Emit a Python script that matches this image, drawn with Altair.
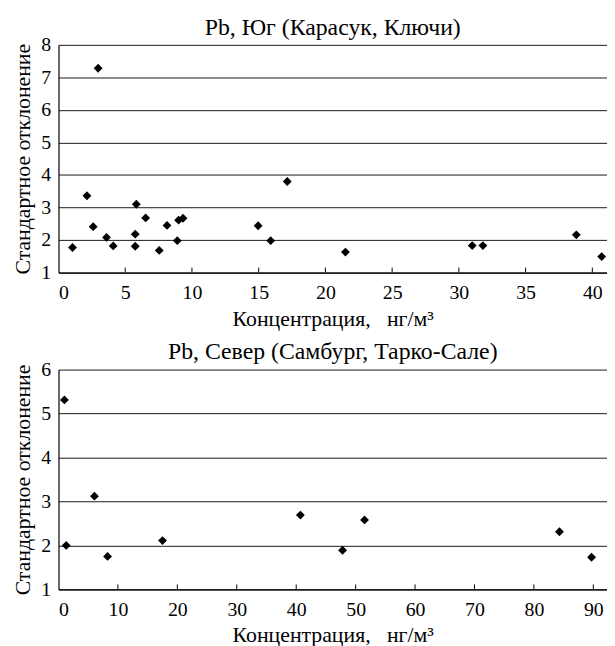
import altair as alt
import pandas as pd

# South (Karasuk, Klyuchi)
south_x = [1.05, 2.13, 2.6, 2.97, 3.6, 4.1, 5.75, 5.83, 5.75, 6.53, 7.55, 8.13,
           8.9, 9.0, 9.33, 14.96, 15.9, 17.14, 21.5, 31.0, 31.8, 38.8, 40.7]
south_y = [1.77, 3.36, 2.41, 7.28, 2.08, 1.82, 2.18, 3.10, 1.81, 2.68, 1.68, 2.45,
           1.98, 2.61, 2.67, 2.44, 1.98, 3.80, 1.63, 1.83, 1.83, 2.16, 1.49]
# North (Samburg, Tarko-Sale)
north_x = [1.0, 1.3, 6.05, 8.26, 17.5, 40.7, 47.8, 51.5, 84.3, 89.7]
north_y = [5.31, 2.0, 3.12, 1.75, 2.11, 2.69, 1.89, 2.58, 2.31, 1.73]

south_xticks = [0, 5, 10, 15, 20, 25, 30, 35, 40]
north_xticks = [0, 10, 20, 30, 40, 50, 60, 70, 80, 90]
south_yticks = [1, 2, 3, 4, 5, 6, 7, 8]
north_yticks = [1, 2, 3, 4, 5, 6]

title_south = "Pb, Юг (Карасук, Ключи)"
title_north = "Pb, Север (Самбург, Тарко-Сале)"
x_title = "Концентрация,\u00a0\u00a0\u00a0нг/м³"
y_title = "Стандартное отклонение"

FONT = "Liberation Serif"
W = 554


def panel(xs, ys, xmax, xticks, yticks, title, h, toff):
    df = pd.DataFrame({"x": xs, "y": ys})
    xscale = alt.Scale(domain=[0, xmax], nice=False, zero=True)
    yscale = alt.Scale(domain=[yticks[0], yticks[-1]], nice=False, zero=False)
    pts = alt.Chart(df).mark_point(
        shape="diamond", filled=True, color="black", size=80, opacity=1
    ).encode(
        x=alt.X("x:Q", scale=xscale,
                axis=alt.Axis(values=xticks, title=x_title, ticks=False, grid=False,
                              labelPadding=10, titlePadding=6, format="d")),
        y=alt.Y("y:Q", scale=yscale,
                axis=alt.Axis(values=yticks, title=y_title, ticks=False, grid=True,
                              labelPadding=8, titlePadding=6, format="d")),
    )
    tdf = pd.DataFrame({"t": [t for t in xticks if t > 0]})
    tks = alt.Chart(tdf).mark_rule(color="black", strokeWidth=1).encode(
        x=alt.X("t:Q", scale=xscale),
        y=alt.value(h),
        y2=alt.value(h - 5),
    )
    return alt.layer(pts, tks).properties(
        width=W, height=h,
        title=alt.TitleParams(title, anchor="middle", offset=toff),
    )


top = panel(south_x, south_y, 41.1, south_xticks, south_yticks, title_south, 230, -5)
bottom = panel(north_x, north_y, 92.3, north_xticks, north_yticks, title_north, 222, -4)

chart = alt.vconcat(top, bottom, spacing=11).resolve_scale(x="independent", y="independent").configure(
    background="white",
    padding={"left": 3, "top": 5, "right": 0, "bottom": 0},
).configure_view(stroke=None).configure_axis(
    labelFont=FONT, titleFont=FONT, labelFontSize=20, titleFontSize=22,
    labelColor="black", titleColor="black", titleFontWeight="normal",
    domainColor="black", domainWidth=1.2, gridColor="#1a1a1a", gridWidth=1,
    gridOpacity=1,
).configure_title(
    font=FONT, fontSize=24, fontWeight="normal", color="black",
)

chart.save("out.html", embed_options={"renderer": "svg", "actions": False})
